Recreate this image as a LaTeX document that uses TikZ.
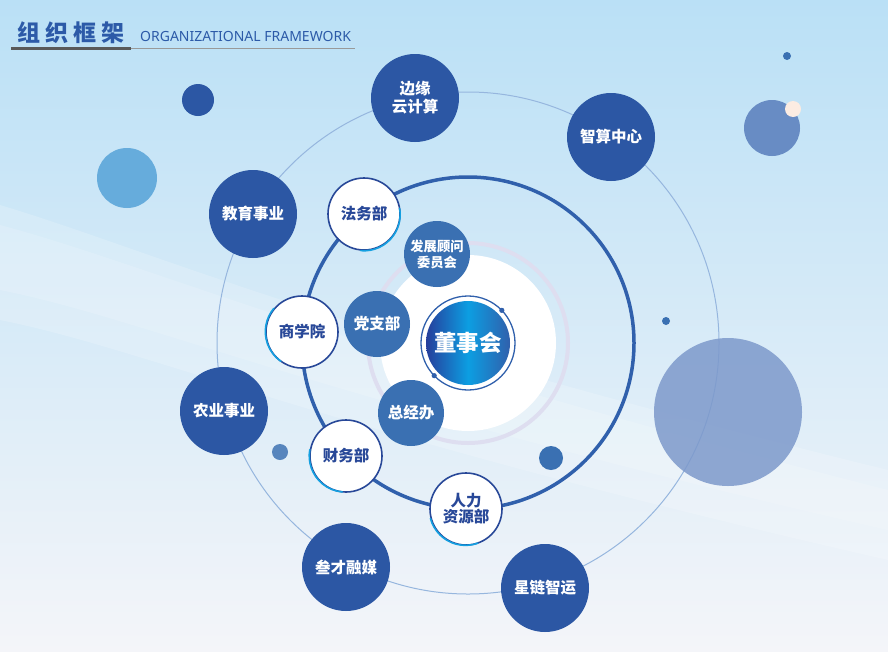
\documentclass[tikz,border=0pt]{standalone}
\usepackage{fontspec}
\setmainfont{Noto Sans}
\newfontfamily\cjk{Noto Sans CJK SC}
\definecolor{bgtop}{RGB}{186,224,246}
\definecolor{bgmid}{RGB}{230,239,248}
\definecolor{bgbot}{RGB}{244,245,249}
\definecolor{deepblue}{RGB}{44,87,164}
\definecolor{midblue}{RGB}{58,112,178}
\definecolor{txtblue}{RGB}{40,72,152}
\definecolor{ringblue}{RGB}{48,96,172}
\definecolor{thinring}{RGB}{150,182,222}
\definecolor{lavender}{RGB}{222,222,240}
\definecolor{titleblue}{RGB}{44,90,168}
\definecolor{skyblue}{RGB}{102,172,220}
\definecolor{softblue}{RGB}{104,140,196}
\definecolor{paleblue}{RGB}{125,153,203}
\definecolor{cream}{RGB}{252,236,226}
\definecolor{cyanedge}{RGB}{20,160,225}
\definecolor{coredark}{RGB}{38,62,155}
\definecolor{corecyan}{RGB}{12,158,226}
\begin{document}
\begin{tikzpicture}[x=1pt, y=-1pt, line join=round, line cap=round,
	big/.style={circle, fill=deepblue, minimum size=88pt, inner sep=0pt, align=center, text=white,
		font=\cjk\bfseries\fontsize{15.5}{18}\selectfont},
	mid/.style={circle, fill=midblue, minimum size=66pt, inner sep=0pt, align=center, text=white,
		font=\cjk\bfseries\fontsize{15.5}{16}\selectfont},
	dept/.style={circle, fill=white, draw=txtblue, line width=1.6pt, minimum size=72pt, inner sep=0pt,
		align=center, text=txtblue, font=\cjk\bfseries\fontsize{15.5}{16}\selectfont},
	core/.style={circle, minimum size=84pt, inner sep=0pt, text=white, shading angle=15,
		left color=coredark, right color=ringblue, middle color=corecyan,
		font=\cjk\bfseries\fontsize{22.5}{24}\selectfont}]
	\useasboundingbox (0,0) rectangle (888,651);
	% background
	\shade[top color=bgtop, middle color=bgmid, bottom color=bgbot] (0,0) rectangle (888,651);
	\fill[white, opacity=.18] (0,205) .. controls (150,250) and (320,330) .. (888,470)
		-- (888,560) .. controls (320,430) and (150,350) .. (0,320) -- cycle;
	\fill[white, opacity=.15] (0,225) .. controls (150,265) and (320,345) .. (888,490)
		-- (888,530) .. controls (320,400) and (150,320) .. (0,290) -- cycle;
	% title
	\node[anchor=west, inner sep=0pt, text=titleblue, font=\cjk\bfseries\fontsize{23}{26}\selectfont]
		(title) at (17,33) {组\hspace{5pt}织\hspace{5pt}框\hspace{5pt}架};
	\node[anchor=west, inner sep=0pt, text=titleblue, font=\fontsize{14}{16}\selectfont]
		(titleen) at (140,36) {ORGANIZATIONAL FRAMEWORK};
	\draw[line width=3pt, line cap=butt, black!65] (11,48) -- (131,48);
	\draw[line width=1pt, line cap=butt, black!40] (131,48) -- (355,48);
	% rings
	\coordinate (o) at (468,343);
	\draw[line width=1pt, thinring] (o) circle[radius=251];
	\draw[line width=3.5pt, ringblue] (o) circle[radius=166];
	\draw[line width=4pt, lavender] (o) circle[radius=100];
	\fill[white] (o) circle[radius=88];
	% floating dots
	\fill[deepblue] (198,100) circle[radius=16];
	\fill[skyblue] (127,178) circle[radius=30];
	\fill[midblue] (787,56) circle[radius=4];
	\fill[softblue] (772,128) circle[radius=28];
	\fill[cream] (793,109) circle[radius=8];
	\fill[midblue] (666,321) circle[radius=4];
	\fill[paleblue, opacity=.85] (728,412) circle[radius=74];
	\fill[midblue!85] (280,452) circle[radius=8];
	\fill[midblue] (551,458) circle[radius=12];
	% centre
	\draw[ringblue, line width=1.3pt] (o) circle[radius=47];
	\node[core] (board) at (o) {董事会};
	\fill[ringblue] ([shift={(-44:47)}]o) circle[radius=2.6];
	\fill[ringblue] ([shift={(136:47)}]o) circle[radius=2.6];
	% business units
	\node[big] (edge) at (415,98) {边缘\\云计算};
	\node[big] (zs) at (611,137) {智算中心};
	\node[big] (edu) at (253,214) {教育事业};
	\node[big] (agri) at (224,411) {农业事业};
	\node[big] (media) at (346,567) {叁才融媒};
	\node[big] (star) at (545,588) {星链智运};
	% inner bodies
	\node[mid, font=\cjk\bfseries\fontsize{13.3}{16}\selectfont] (advis) at (437,254) {发展顾问\\委员会};
	\node[mid] (party) at (377,324) {党支部};
	\node[mid] (gm) at (411,413) {总经办};
	% departments
	\node[dept] (law) at (364,214) {法务部};
	\node[dept] (biz) at (302,332) {商学院};
	\node[dept] (fin) at (346,456) {财务部};
	\node[dept] (hr) at (466,509) {人力\\资源部};
	\begin{scope}[y=1pt]
		\foreach \n/\a/\b in {law/-95/10, biz/140/235, fin/170/265, hr/195/290}
			\draw[cyanedge, line width=1.6pt] (\n.\a) arc[start angle=\a, end angle=\b, radius=36.2pt];
	\end{scope}
\end{tikzpicture}
\end{document}
